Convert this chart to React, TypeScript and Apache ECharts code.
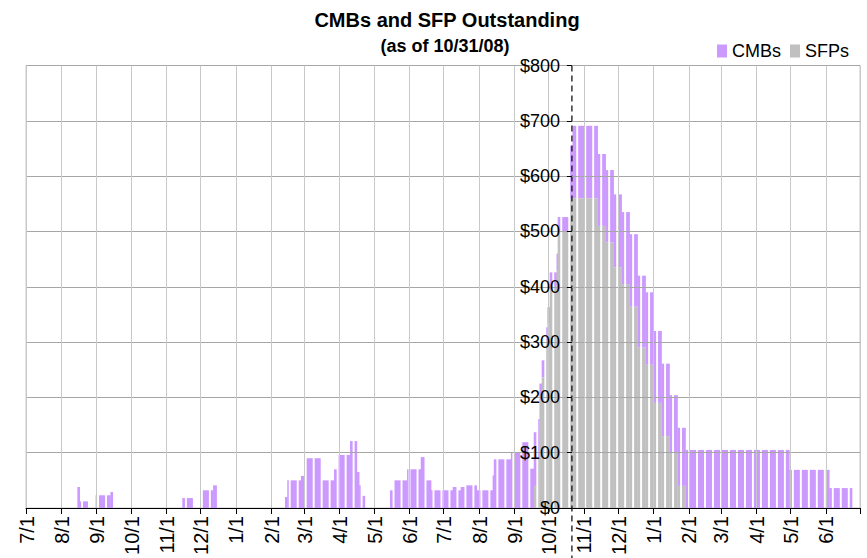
import React, { useEffect, useRef } from "react";
import * as echarts from "echarts";

// ---- axis / labels ----
const axisStart = "2007-07-01";
const axisEnd = "2009-06-30";
const markerDate = "2008-10-21";
const titleText = "CMBs and SFP Outstanding";
const subtitleText = "(as of 10/31/08)";
const yMax = 800;
const yStep = 100;

// ---- data: runs of business days with constant outstanding ($bn) ----
const runStart = [
  "2007-08-15", "2007-08-17", "2007-08-20", "2007-08-31", "2007-09-13",
  "2007-11-15", "2007-12-03", "2007-12-12",
  "2008-02-13", "2008-02-15", "2008-02-27", "2008-03-03", "2008-03-17", "2008-03-27",
  "2008-03-31", "2008-04-10", "2008-04-16", "2008-04-18", "2008-04-21",
  "2008-05-15", "2008-05-19", "2008-05-30", "2008-06-11", "2008-06-16", "2008-06-20",
  "2008-07-09", "2008-07-14", "2008-07-16", "2008-07-21", "2008-07-30", "2008-08-13",
  "2008-08-14", "2008-08-29", "2008-09-08",
  "2008-09-15", "2008-09-18", "2008-09-22", "2008-09-23", "2008-09-25", "2008-09-29",
  "2008-09-30", "2008-10-02", "2008-10-08", "2008-10-09", "2008-10-20", "2008-10-22",
  "2008-11-13", "2008-11-20", "2008-11-27", "2008-12-04", "2008-12-11", "2008-12-18",
  "2008-12-25", "2009-01-01", "2009-01-08", "2009-01-15", "2009-01-22", "2009-01-29",
  "2009-04-30", "2009-06-04",
];
const runEnd = [
  "2007-08-16", "2007-08-17", "2007-08-23", "2007-09-12", "2007-09-14",
  "2007-11-23", "2007-12-11", "2007-12-14",
  "2008-02-14", "2008-02-26", "2008-02-29", "2008-03-14", "2008-03-26", "2008-03-28",
  "2008-04-09", "2008-04-15", "2008-04-17", "2008-04-18", "2008-04-22",
  "2008-05-16", "2008-05-29", "2008-06-10", "2008-06-13", "2008-06-19", "2008-07-08",
  "2008-07-11", "2008-07-15", "2008-07-18", "2008-07-29", "2008-08-12", "2008-08-13",
  "2008-08-28", "2008-09-05", "2008-09-12",
  "2008-09-17", "2008-09-19", "2008-09-22", "2008-09-24", "2008-09-26", "2008-09-29",
  "2008-10-01", "2008-10-07", "2008-10-08", "2008-10-17", "2008-10-21", "2008-11-12",
  "2008-11-19", "2008-11-26", "2008-12-03", "2008-12-10", "2008-12-17", "2008-12-24",
  "2008-12-31", "2009-01-07", "2009-01-14", "2009-01-21", "2009-01-28", "2009-04-29",
  "2009-06-03", "2009-06-23",
];
const cmbValues = [
  38, 12, 12, 23, 29,
  18, 32, 41,
  20, 50, 58, 90, 50, 70,
  96, 121, 65, 41, 22,
  32, 50, 70, 92, 50, 32,
  38, 32, 38, 41, 32, 59,
  88, 100, 119,
  71, 97, 71, 31, 31, 24,
  30, 30, 30, 26, 95, 131,
  130, 131, 132, 130, 131, 130,
  131, 130, 131, 104, 105, 105,
  69, 36,
];
const sfpValues = [
  0, 0, 0, 0, 0,
  0, 0, 0,
  0, 0, 0, 0, 0, 0,
  0, 0, 0, 0, 0,
  0, 0, 0, 0, 0, 0,
  0, 0, 0, 0, 0, 0,
  0, 0, 0,
  0, 40, 90, 194, 236, 303,
  333, 396, 430, 500, 560, 560,
  510, 480, 435, 405, 364, 290,
  259, 190, 130, 100, 40, 0,
  0, 0,
];

const CMB_COLOR = "#CC99FF";
const SFP_COLOR = "#C0C0C0";
const FONT = "'Liberation Sans', Arial, sans-serif";

const DAY = 86400000;
function parseDate(s: string) {
  const [y, m, d] = s.split("-").map(Number);
  return Date.UTC(y, m - 1, d);
}
const t0 = parseDate(axisStart);
const dayCount = Math.round((parseDate(axisEnd) - t0) / DAY) + 1;
const dayIndex = (s: string) => Math.round((parseDate(s) - t0) / DAY);

const categories: string[] = [];
for (let i = 0; i < dayCount; i++) {
  const d = new Date(t0 + i * DAY);
  categories.push(`${d.getUTCMonth() + 1}/${d.getUTCDate()}`);
}
const isMonthStart = (_i: number, v: string) => String(v).split("/")[1] === "1";

// split runs into contiguous weekday blocks
const blocks: number[][] = [];
runStart.forEach((s, r) => {
  const a = dayIndex(s);
  const b = dayIndex(runEnd[r]);
  let cur = -1;
  let len = 0;
  for (let i = a; i <= b; i++) {
    const wd = new Date(t0 + i * DAY).getUTCDay();
    if (wd >= 1 && wd <= 5) {
      if (cur < 0) {
        cur = i;
        len = 0;
      }
      len++;
    } else if (cur >= 0) {
      blocks.push([cur, len, cmbValues[r], sfpValues[r]]);
      cur = -1;
    }
  }
  if (cur >= 0) blocks.push([cur, len, cmbValues[r], sfpValues[r]]);
});

const sfpData = blocks.filter((b) => b[3] > 0).map((b) => [b[0], b[1], 0, b[3]]);
const cmbData = blocks.filter((b) => b[2] > 0).map((b) => [b[0], b[1], b[3], b[3] + b[2]]);

const rectRenderer = (color: string) => (_p: any, api: any) => {
  const s = api.value(0);
  const n = api.value(1);
  const lo = api.value(2);
  const hi = api.value(3);
  const bw = api.size([1, 0])[0];
  const top = api.coord([s, hi]);
  const bot = api.coord([s, lo]);
  return {
    type: "rect",
    shape: { x: top[0] - bw / 2, y: top[1], width: n * bw + 0.35, height: bot[1] - top[1] },
    style: { fill: color },
  };
};

export default function App() {
  const ref = useRef<HTMLDivElement>(null);
  useEffect(() => {
    if (!ref.current) return;
    const chart = echarts.init(ref.current, undefined, { renderer: "svg" });
    const gridLeft = 26;
    const gridWidth = 834;
    const markerIdx = dayIndex(markerDate);
    const yOffset = -((markerIdx + 0.5) * (gridWidth / dayCount));
    chart.setOption({
      animation: false,
      backgroundColor: "#FFFFFF",
      textStyle: { fontFamily: FONT },
      title: [
        {
          text: titleText,
          left: 442,
          top: 5,
          textAlign: "center",
          textStyle: { fontSize: 20, fontWeight: "bold", color: "#000", fontFamily: FONT },
        },
        {
          text: subtitleText,
          left: 440,
          top: 32,
          textAlign: "center",
          textStyle: { fontSize: 18, fontWeight: "bold", color: "#000", fontFamily: FONT },
        },
      ],
      legend: {
        data: ["CMBs", "SFPs"],
        left: 712,
        top: 37,
        icon: "rect",
        itemWidth: 10,
        itemHeight: 13,
        itemGap: 9,
        textStyle: { fontSize: 18, color: "#000", fontFamily: FONT },
      },
      grid: {
        left: gridLeft,
        top: 65.5,
        width: gridWidth,
        height: 442.5,
        show: true,
        borderColor: "#C8C8C8",
        borderWidth: 1,
        containLabel: false,
      },
      xAxis: {
        type: "category",
        data: categories,
        boundaryGap: true,
        z: 10,
        axisLine: { show: true, lineStyle: { color: "#000", width: 1 } },
        axisTick: { show: true, interval: isMonthStart, length: 6, lineStyle: { color: "#000" } },
        axisLabel: {
          interval: isMonthStart,
          rotate: 90,
          fontSize: 20,
          color: "#000",
          margin: 8,
          fontFamily: FONT,
          hideOverlap: false,
        },
        splitLine: { show: true, interval: isMonthStart, lineStyle: { color: "#C8C8C8", width: 1 } },
      },
      yAxis: {
        type: "value",
        min: 0,
        max: yMax,
        interval: yStep,
        position: "left",
        offset: yOffset,
        z: 10,
        axisLine: { show: false },
        axisTick: { show: true, length: 5, lineStyle: { color: "#000" } },
        axisLabel: {
          formatter: (v: number) => "$" + v,
          fontSize: 18,
          color: "#000",
          margin: 12,
          fontFamily: FONT,
        },
        splitLine: { show: true, lineStyle: { color: "#A6A6A6", width: 1 } },
      },
      series: [
        {
          type: "custom",
          name: "CMBs",
          renderItem: rectRenderer(CMB_COLOR),
          data: cmbData,
          encode: { x: 0, y: 3 },
          itemStyle: { color: CMB_COLOR },
          z: 2,
        },
        {
          type: "custom",
          name: "SFPs",
          renderItem: rectRenderer(SFP_COLOR),
          data: sfpData,
          encode: { x: 0, y: 3 },
          itemStyle: { color: SFP_COLOR },
          z: 2,
        },
        {
          type: "custom",
          name: "marker",
          clip: false,
          silent: true,
          z: 5,
          data: [[markerIdx, 0]],
          encode: { x: 0, y: 1 },
          renderItem: (_p: any, api: any) => {
            const t = api.coord([api.value(0), yMax]);
            const b = api.coord([api.value(0), 0]);
            return {
              type: "line",
              shape: { x1: t[0], y1: t[1], x2: b[0], y2: b[1] + 60 },
              style: { stroke: "#000", lineWidth: 1.2, lineDash: [6, 4] },
            };
          },
        },
      ],
    });
    return () => chart.dispose();
  }, []);
  return (
    <div
      ref={ref}
      style={{ position: "fixed", left: 0, top: 0, width: 867, height: 558, background: "#fff" }}
    />
  );
}
